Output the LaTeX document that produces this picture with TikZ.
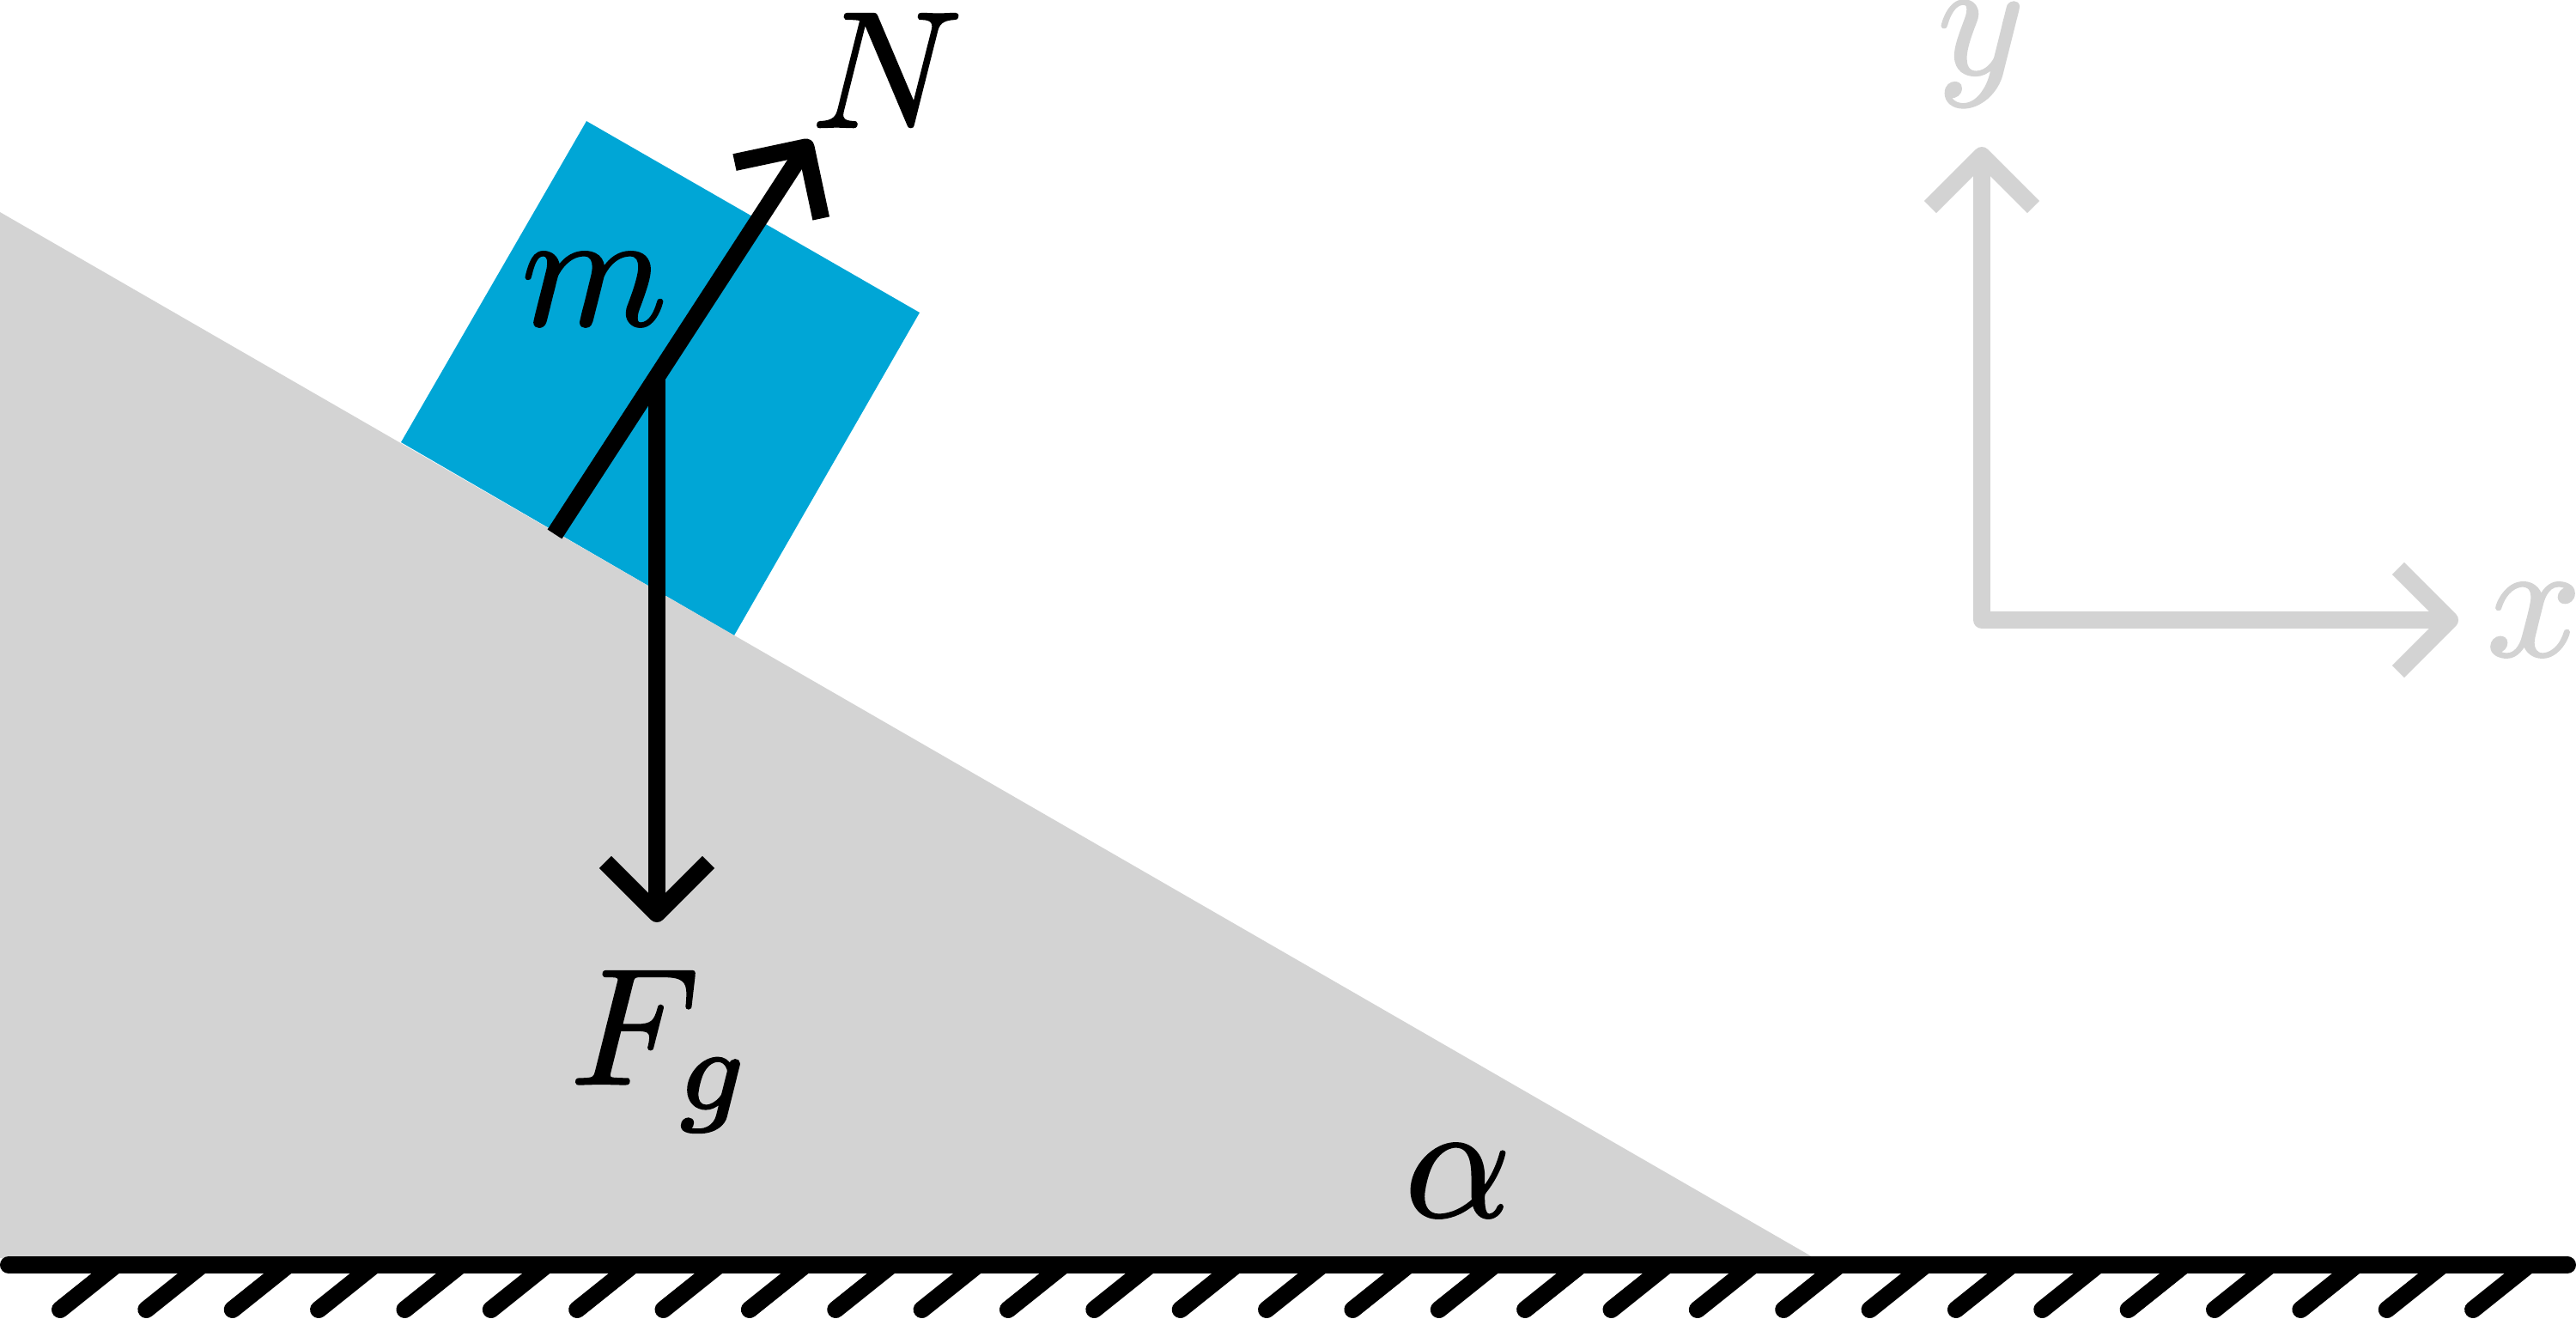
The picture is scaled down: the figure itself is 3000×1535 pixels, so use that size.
\documentclass[tikz,border=0pt]{standalone}
\usepackage{amsmath}
\usetikzlibrary{arrows.meta}
\definecolor{blockcyan}{HTML}{00A6D6}
\definecolor{slopegray}{HTML}{D3D3D3}
\newcommand{\heavymath}[1]{\special{pdf:code 2 Tr 0.12 w}$#1$\special{pdf:code 0 Tr}}
\tikzset{
    force/.style={line width=0.2cm, -{Straight Barb[length=0.6cm,width=1.2cm,line join=round]}},
    axis/.style={force, draw=slopegray, line join=round, {Straight Barb[length=0.6cm,width=1.2cm,line join=round]}-{Straight Barb[length=0.6cm,width=1.2cm,line join=round]}},
    hatch/.style={line width=0.2cm, line cap=round},
    bigmath/.style={inner sep=0pt, scale=5.5, transform shape}
}
\begin{document}
\begin{tikzpicture}[x=0.01cm,y=-0.01cm]
                \useasboundingbox (0,0) rectangle (3000,1535);

                % Drawing block and slope
                \fill [blockcyan] (683,141) -- (1071,364) -- (855,740) -- (467,515) -- cycle;%
                \fill [slopegray] (0,247) -- (2113,1465) -- (0,1465) -- cycle;%

                % Drawing ground
                \coordinate (groundleft) at (10,1473);
                \coordinate (groundright) at (2990,1473);
                \draw [hatch] (groundleft) -- (groundright);%
                \foreach \n in {0,...,28} {
                    \coordinate (hatchtop\n) at ({135+100.36*\n},1473);
                    \coordinate (hatchend\n) at ({70+100.36*\n},1525);
                    \draw [hatch] (hatchtop\n) -- (hatchend\n);%
                }

                % Drawing forces
                \coordinate (gravitystart) at (765,440);
                \coordinate (gravityend) at (765,1074);
                \coordinate (normalstart) at (646,622);
                \coordinate (normalend) at (944,163);
                \draw [force] (gravitystart) -- (gravityend);%
                \draw [force] (normalstart) -- (normalend);%

                % Drawing axes
                \coordinate (axisorigin) at (2308,722);
                \coordinate (axisytip) at (2308,171);
                \coordinate (axisxtip) at (2863,722);
                \draw [axis] (axisytip) -- (axisorigin) -- (axisxtip);%

                % Labels
                \node [bigmath] (labelm) at (692,337) {\heavymath{m}};
                \node [bigmath] (labeln) at (1033,82) {\heavymath{N}};
                \node [bigmath] (labelfg) at (771,1224) {\heavymath{F_g}};
                \node [bigmath] (labelalpha) at (1698,1375) {\heavymath{\alpha}};
                \node [bigmath, text=slopegray] (labely) at (2307,63) {\heavymath{y}};
                \node [bigmath, text=slopegray] (labelx) at (2951,722) {\heavymath{x}};
            \end{tikzpicture}
\end{document}
